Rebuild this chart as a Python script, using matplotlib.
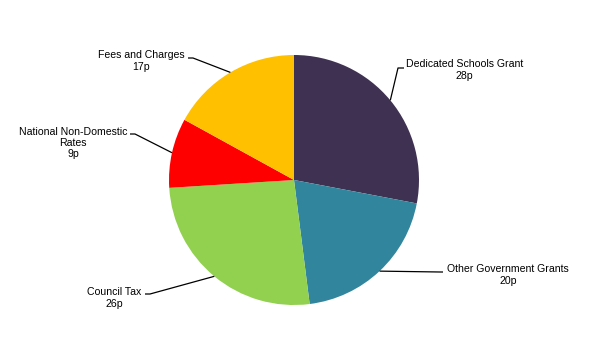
import numpy as np
import matplotlib.pyplot as plt

plt.rcParams['font.family'] = ['Liberation Sans', 'DejaVu Sans']

categories = ["Dedicated Schools Grant", "Other Government Grants", "Council Tax",
              "National Non-Domestic\nRates", "Fees and Charges"]
values = [28, 20, 26, 9, 17]
colors = ["#3F3151", "#31859C", "#92D050", "#FF0000", "#FFC000"]

W, H = 601, 353
fig = plt.figure(figsize=(W / 100, H / 100), dpi=100)
ax = fig.add_axes([0, 0, 1, 1])

cx, cy, r = 294, H - 180, 125
wedges, _ = ax.pie(values, colors=colors, startangle=90, counterclock=False,
                   center=(cx, cy), radius=r, frame=True,
                   wedgeprops=dict(linewidth=0))

# leader elbow / end (in pixel coords from top-left) and text anchor per slice
layout = [
    ((398, 68), (404, 68), (406, 70), 'left'),
    ((440, 272), (443, 272), (508, 275), 'center'),
    ((150, 294), (145, 294), (114, 298), 'center'),
    ((135, 134), (130, 134), (73, 143), 'center'),
    ((193, 58), (188, 58), (141, 61), 'center'),
]

for w, name, val, (elbow, end, txt, ha) in zip(wedges, categories, values, layout):
    mid = np.deg2rad((w.theta1 + w.theta2) / 2)
    ex, ey = cx + r * np.cos(mid), cy + r * np.sin(mid)
    xs = [ex, elbow[0], end[0]]
    ys = [ey, H - elbow[1], H - end[1]]
    ax.plot(xs, ys, color='black', lw=0.9, solid_capstyle='butt')
    label = f"{name}\n{val}p"
    ax.text(txt[0], H - txt[1], label, ha=ha, va='center', fontsize=7.6,
            multialignment='center', linespacing=1.15)

ax.set_xlim(0, W)
ax.set_ylim(0, H)
ax.set_aspect('equal')
ax.axis('off')
fig.savefig('out.png', dpi=100)
